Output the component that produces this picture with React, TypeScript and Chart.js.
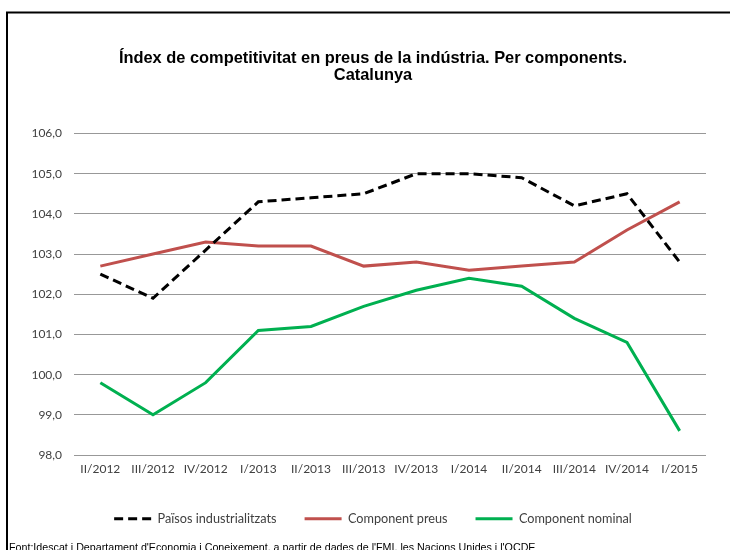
import React, { useEffect, useRef } from "react";
import { Chart, registerables } from "chart.js";

Chart.register(...registerables);

const categories = ["II/2012", "III/2012", "IV/2012", "I/2013", "II/2013", "III/2013", "IV/2013", "I/2014", "II/2014", "III/2014", "IV/2014", "I/2015"];
const paisosIndustrialitzats = [102.5, 101.9, 103.1, 104.3, 104.4, 104.5, 105.0, 105.0, 104.9, 104.2, 104.5, 102.8];
const componentPreus = [102.7, 103.0, 103.3, 103.2, 103.2, 102.7, 102.8, 102.6, 102.7, 102.8, 103.6, 104.3];
const componentNominal = [99.8, 99.0, 99.8, 101.1, 101.2, 101.7, 102.1, 102.4, 102.2, 101.4, 100.8, 98.6];
const seriesNames = ["Països industrialitzats", "Component preus", "Component nominal"];
const titleLines = ["Índex de competitivitat en preus de la indústria. Per components.", "Catalunya"];
const sourceText = "Font:Idescat i Departament d'Economia i Coneixement, a partir de dades de l'FMI, les Nacions Unides i l'OCDE";
const yMin = 98;
const yMax = 106;
const yStep = 1;

const tickFont = { family: "Lato, 'Open Sans', sans-serif", size: 12 };
const legendFont = { family: "Lato, 'Open Sans', sans-serif", size: 12.7 };
const textColor = "#404040";

const framePlugin = {
  id: "frame",
  afterDraw(chart: any) {
    const ctx = chart.ctx;
    ctx.save();
    ctx.strokeStyle = "#000";
    ctx.lineWidth = 2;
    ctx.setLineDash([]);
    ctx.beginPath();
    ctx.moveTo(7, 550);
    ctx.lineTo(7, 12.5);
    ctx.lineTo(730, 12.5);
    ctx.stroke();
    ctx.fillStyle = "#000";
    ctx.font = "10.7px 'Liberation Sans', Arial, sans-serif";
    ctx.textBaseline = "alphabetic";
    ctx.textAlign = "left";
    ctx.fillText(sourceText, 9, 551);
    ctx.restore();
  },
};

export default function App() {
  const ref = useRef<HTMLCanvasElement>(null);

  useEffect(() => {
    const chart = new Chart(ref.current as HTMLCanvasElement, {
      type: "line",
      data: {
        labels: categories,
        datasets: [
          {
            label: seriesNames[0],
            data: paisosIndustrialitzats,
            borderColor: "#000000",
            backgroundColor: "#000000",
            borderWidth: 3,
            borderDash: [9, 5],
            pointRadius: 0,
            tension: 0,
          },
          {
            label: seriesNames[1],
            data: componentPreus,
            borderColor: "#C0504D",
            backgroundColor: "#C0504D",
            borderWidth: 3,
            pointRadius: 0,
            tension: 0,
          },
          {
            label: seriesNames[2],
            data: componentNominal,
            borderColor: "#00B050",
            backgroundColor: "#00B050",
            borderWidth: 3,
            pointRadius: 0,
            tension: 0,
          },
        ],
      },
      options: {
        responsive: false,
        animation: false,
        devicePixelRatio: 1,
        layout: { padding: { left: 15, right: 0, top: 30, bottom: 14.8 } },
        plugins: {
          title: {
            display: true,
            text: titleLines,
            color: "#000",
            font: { family: "'Liberation Sans', Arial, sans-serif", size: 16.4, weight: "bold", lineHeight: 17 / 16.4 },
            padding: { top: 19.5, bottom: 50 },
          },
          legend: {
            position: "bottom",
            labels: {
              usePointStyle: true,
              pointStyle: "line",
              pointStyleWidth: 37,
              padding: 28,
              color: textColor,
              font: legendFont,
              generateLabels: (c: any) => {
                const items = Chart.defaults.plugins.legend.labels.generateLabels(c);
                return items.map((it: any) => {
                  const ds: any = c.data.datasets[it.datasetIndex];
                  return {
                    ...it,
                    lineWidth: ds.borderWidth,
                    lineDash: ds.borderDash || [],
                    strokeStyle: ds.borderColor,
                    fillStyle: ds.borderColor,
                    pointStyle: "line",
                  };
                });
              },
            },
          },
          tooltip: { enabled: false },
        },
        scales: {
          x: {
            offset: true,
            grid: { display: false, drawTicks: false },
            border: { display: false },
            ticks: { padding: 7, color: textColor, font: tickFont, maxRotation: 0, autoSkip: false },
            afterFit: (s: any) => {
              s.height = 29.5;
            },
          },
          y: {
            min: yMin,
            max: yMax,
            ticks: {
              stepSize: yStep,
              padding: 12,
              color: textColor,
              font: tickFont,
              callback: (v: any) => Number(v).toFixed(1).replace(".", ","),
            },
            grid: { color: "#989898", lineWidth: 1, drawTicks: false },
            border: { display: false },
            afterFit: (s: any) => {
              s.width = 59;
            },
          },
          y2: {
            position: "right",
            grid: { display: false },
            border: { display: false },
            ticks: { display: false },
            afterFit: (s: any) => {
              s.width = 25;
            },
          },
        },
      },
      plugins: [framePlugin],
    } as any);
    return () => chart.destroy();
  }, []);

  return (
    <div style={{ position: "absolute", left: 0, top: 0, width: 731, height: 550 }}>
      <canvas ref={ref} width={731} height={550} style={{ display: "block" }} />
    </div>
  );
}
